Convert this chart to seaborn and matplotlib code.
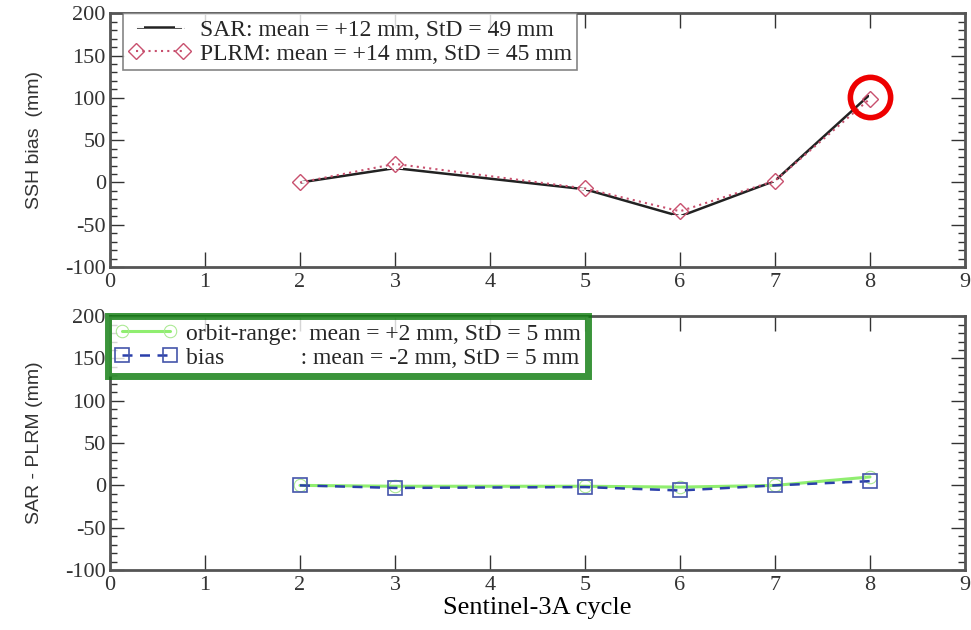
import matplotlib
matplotlib.use("Agg")
import matplotlib.pyplot as plt
import seaborn as sns
import numpy as np
from matplotlib.ticker import MultipleLocator

sns.set_theme(style="white")
plt.rcParams['font.family'] = ['Liberation Serif', 'DejaVu Serif']
plt.rcParams['axes.unicode_minus'] = False

cycles = [2, 3, 5, 6, 7, 8]
sar_bias = [0, 17, -8, -40, 2, 104]
plrm_bias = [0, 22, -7, -34, 2, 99]
orbit_range_diff = [0, -1, -1, -2, 0, 10]
bias_diff = [0, -3, -2, -6, 0, 5]

sar_label = "SAR: mean = +12 mm, StD = 49 mm"
plrm_label = "PLRM: mean = +14 mm, StD = 45 mm"
orb_label = "orbit-range:  mean = +2 mm, StD = 5 mm"
bias_label = "bias             : mean = -2 mm, StD = 5 mm"

fig = plt.figure(figsize=(9.71, 6.30), dpi=100)
ax1 = fig.add_axes([0.1133, 0.576, 0.8805, 0.403])
ax2 = fig.add_axes([0.1133, 0.0952, 0.8805, 0.403])

sns.lineplot(x=cycles, y=sar_bias, ax=ax1, color="#222222", marker="+",
             markersize=12, markeredgewidth=1.4, linewidth=1.8, label=sar_label)
sns.lineplot(x=cycles, y=plrm_bias, ax=ax1, color="#c8506e", marker="D",
             markersize=8, markerfacecolor="none", markeredgecolor="#c8506e",
             markeredgewidth=1.0, linestyle=(0, (1, 2)), linewidth=1.5, label=plrm_label)
# red highlight circle around last SAR point
ax1.plot([cycles[-1]], [sar_bias[-1] - 3], marker="o", markersize=29,
         markerfacecolor="none", markeredgecolor="#ee0000", markeredgewidth=4, linestyle="none")

sns.lineplot(x=cycles, y=orbit_range_diff, ax=ax2, color="#90ee70", marker="o",
             markersize=9, markerfacecolor="none", markeredgecolor="#a8e890",
             linewidth=2.2, label=orb_label)
sns.lineplot(x=cycles, y=bias_diff, ax=ax2, color="#2a3faa", marker="s",
             markersize=10, markerfacecolor="none", markeredgecolor="#4455aa",
             markeredgewidth=1.2, linestyle=(0, (4, 3)), linewidth=1.8, label=bias_label)

ylabels = ["SSH bias  (mm)", "SAR - PLRM (mm)"]
for ax, yl in zip([ax1, ax2], ylabels):
    ax.set_xlim(0, 9)
    ax.set_ylim(-100, 200)
    ax.xaxis.set_major_locator(MultipleLocator(1))
    ax.yaxis.set_major_locator(MultipleLocator(50))
    ax.yaxis.set_minor_locator(MultipleLocator(10))
    ax.tick_params(which="both", direction="in", top=True, right=True,
                   bottom=True, left=True, labelsize=16, colors="#333333")
    ax.tick_params(which="major", length=10, width=1)
    ax.tick_params(axis="x", which="major", length=11)
    ax.tick_params(which="minor", length=5, width=1)
    ax.tick_params(axis="x", pad=4)
    ax.tick_params(axis="y", pad=3)
    for s in ax.spines.values():
        s.set_color("#555555")
        s.set_linewidth(2)
    ax.set_ylabel(yl, family=["Liberation Sans", "DejaVu Sans"], fontsize=14, color="#333333", labelpad=16)
    ax.grid(False)

ax2.set_xlabel("Sentinel-3A cycle", fontsize=19, color="black", labelpad=2)

leg1 = ax1.legend(loc="upper left", bbox_to_anchor=(0.015, 1.0), fontsize=17, frameon=True,
                  fancybox=False, handlelength=2.6, borderpad=0.25, labelspacing=0.1,
                  handletextpad=0.4, borderaxespad=0.0, numpoints=2)
leg1.get_frame().set_edgecolor("#666666")
leg1.get_frame().set_linewidth(1.2)

leg2 = ax2.legend(loc="upper left", bbox_to_anchor=(-0.002, 1.0), fontsize=17, frameon=True,
                  fancybox=False, handlelength=2.6, borderpad=0.3, labelspacing=0.1,
                  handletextpad=0.4, borderaxespad=0.0, numpoints=2)
leg2.get_frame().set_edgecolor("#0a7a0a")
leg2.get_frame().set_linewidth(5)

fig.savefig("out.png", dpi=100)
